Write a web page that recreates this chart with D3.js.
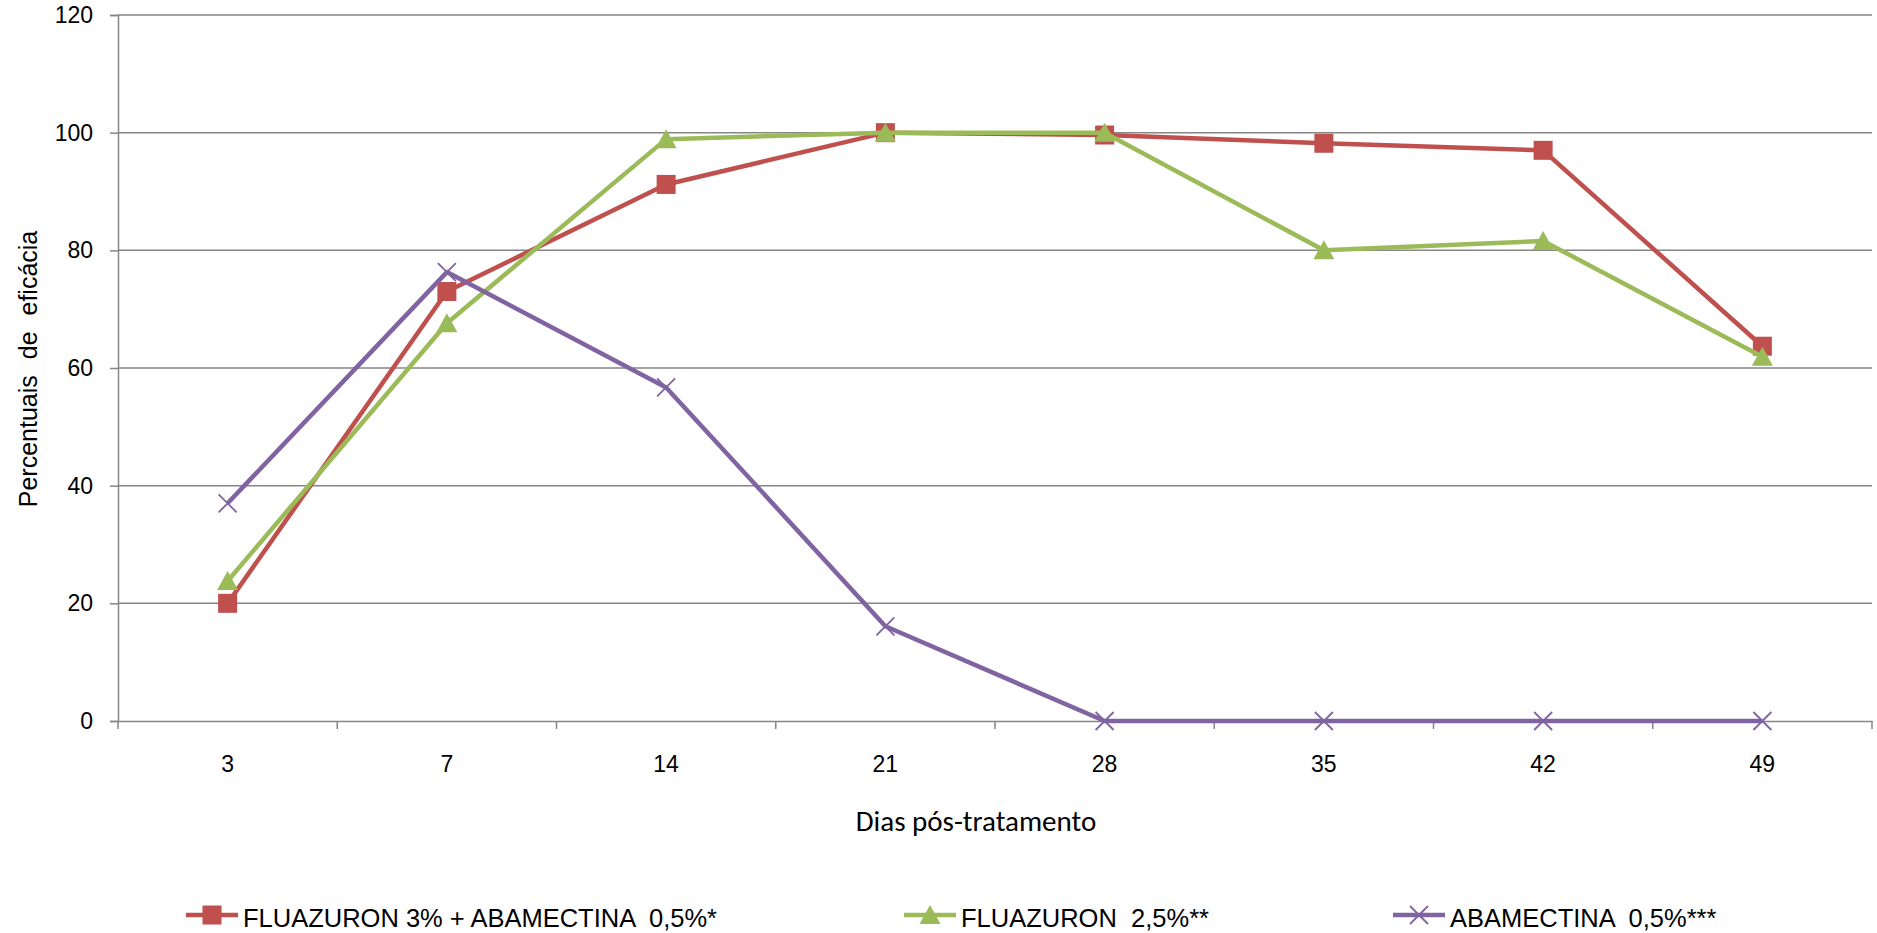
<!DOCTYPE html>
<html>
<head>
<meta charset="utf-8">
<script src="https://cdn.jsdelivr.net/npm/d3@7"></script>
<style>
  html, body { margin: 0; padding: 0; background: #ffffff; overflow: hidden; }
  svg { display: block; }
  svg text { font-family: "Liberation Sans", Arial, sans-serif; fill: #000000; }
</style>
</head>
<body>
<div id="chart"></div>
<script>
// Data
const days = ['3', '7', '14', '21', '28', '35', '42', '49'];
const fluazuronAbamectina = [20, 73, 91.2, 100, 99.6, 98.2, 97, 63.7];
const fluazuron = [23.8, 67.6, 98.9, 100, 100, 80, 81.6, 61.9];
const abamectina = [37, 76.3, 56.7, 16.1, 0, 0, 0, 0];
const yTicks = [0, 20, 40, 60, 80, 100, 120];

const seriesNames = ['FLUAZURON 3% + ABAMECTINA  0,5%*', 'FLUAZURON  2,5%**', 'ABAMECTINA  0,5%***'];

const series = [
    { name: seriesNames[0], values: fluazuronAbamectina, color: '#C0504D', marker: 'square' },
    { name: seriesNames[1], values: fluazuron, color: '#9BBB59', marker: 'triangle' },
    { name: seriesNames[2], values: abamectina, color: '#8064A2', marker: 'cross' }
];

const width = 1877;
const height = 933;
const margin = { top: 15, right: 5, bottom: 212, left: 118 };
const innerWidth = width - margin.left - margin.right;
const innerHeight = height - margin.top - margin.bottom;

const svg = d3.select('#chart')
    .append('svg')
    .attr('width', width)
    .attr('height', height);

const g = svg.append('g')
    .attr('transform', `translate(${margin.left}, ${margin.top})`);

const xScale = d3.scaleBand()
    .domain(days)
    .range([0, innerWidth]);

const yScale = d3.scaleLinear()
    .domain([0, 120])
    .range([innerHeight, 0]);

const axisColor = '#868686';

// Horizontal gridlines
g.selectAll('.grid')
    .data(yTicks.filter(d => d > 0))
    .enter()
    .append('line')
    .attr('class', 'grid')
    .attr('x1', 0)
    .attr('x2', innerWidth)
    .attr('y1', d => yScale(d))
    .attr('y2', d => yScale(d))
    .attr('stroke', axisColor)
    .attr('stroke-width', 1.5);

// Y axis
const yAxis = g.append('g')
    .call(d3.axisLeft(yScale).tickValues(yTicks).tickSize(8).tickPadding(17));
yAxis.select('.domain').attr('stroke', axisColor).attr('stroke-width', 1.5);
yAxis.selectAll('.tick line').attr('stroke', axisColor).attr('stroke-width', 1.5);
yAxis.selectAll('.tick text')
    .style('font-size', '23px')
    .style('font-family', '"Liberation Sans", Arial, sans-serif')
    .attr('fill', '#000');

// X axis: line along 0 with ticks at category boundaries
const xAxis = g.append('g')
    .attr('transform', `translate(0, ${innerHeight})`)
    .call(d3.axisBottom(xScale).tickSize(0).tickPadding(35));
xAxis.select('.domain').attr('stroke', axisColor).attr('stroke-width', 1.5);
xAxis.selectAll('.tick text')
    .style('font-size', '23px')
    .style('font-family', '"Liberation Sans", Arial, sans-serif')
    .attr('fill', '#000');

const boundaries = days.map(d => xScale(d)).concat([innerWidth]);
xAxis.selectAll('.bound')
    .data(boundaries)
    .enter()
    .append('line')
    .attr('class', 'bound')
    .attr('x1', d => d)
    .attr('x2', d => d)
    .attr('y1', 0)
    .attr('y2', 8)
    .attr('stroke', axisColor)
    .attr('stroke-width', 1.5);

// Axis titles
svg.append('text')
    .attr('x', 976)
    .attr('y', 831)
    .attr('text-anchor', 'middle')
    .style('font-family', 'Carlito, Lato, sans-serif')
    .style('font-size', '29px')
    .text('Dias pós-tratamento');

svg.append('text')
    .attr('transform', 'translate(37, 369) rotate(-90)')
    .attr('text-anchor', 'middle')
    .style('font-size', '25px')
    .style('word-spacing', '9px')
    .text('Percentuais de eficácia');

// Marker drawing
function drawMarker(sel, type, color) {
    if (type === 'square') {
        sel.append('rect')
            .attr('x', -9.5).attr('y', -9.5)
            .attr('width', 19).attr('height', 19)
            .attr('fill', color);
    } else if (type === 'triangle') {
        sel.append('path')
            .attr('d', 'M0,-10L10.5,9L-10.5,9Z')
            .attr('fill', color);
    } else {
        sel.append('path')
            .attr('d', 'M-9,-9L9,9M-9,9L9,-9')
            .attr('stroke', color)
            .attr('stroke-width', 1.8)
            .attr('fill', 'none');
    }
}

const xPos = d => xScale(d) + xScale.bandwidth() / 2;

const line = d3.line()
    .x((d, i) => xPos(days[i]))
    .y(d => yScale(d));

series.forEach(s => {
    const sg = g.append('g');
    sg.append('path')
        .datum(s.values)
        .attr('d', line)
        .attr('fill', 'none')
        .attr('stroke', s.color)
        .attr('stroke-width', 4.5)
        .attr('stroke-linejoin', 'round');

    sg.selectAll('.marker')
        .data(s.values)
        .enter()
        .append('g')
        .attr('class', 'marker')
        .attr('transform', (d, i) => `translate(${xPos(days[i])}, ${yScale(d)})`)
        .each(function() { drawMarker(d3.select(this), s.marker, s.color); });
});

// Legend
const legendX = [212, 930, 1419];
const legendY = 915;
const legend = svg.append('g');

series.forEach((s, i) => {
    const lg = legend.append('g')
        .attr('transform', `translate(${legendX[i]}, ${legendY})`);
    lg.append('line')
        .attr('x1', -26).attr('x2', 26)
        .attr('y1', 0).attr('y2', 0)
        .attr('stroke', s.color)
        .attr('stroke-width', 4.5);
    drawMarker(lg, s.marker, s.color);
    lg.append('text')
        .attr('x', 31)
        .attr('y', 12)
        .style('font-size', '25.5px')
        .style('white-space', 'pre')
        .text(s.name);
});
</script>
</body>
</html>
